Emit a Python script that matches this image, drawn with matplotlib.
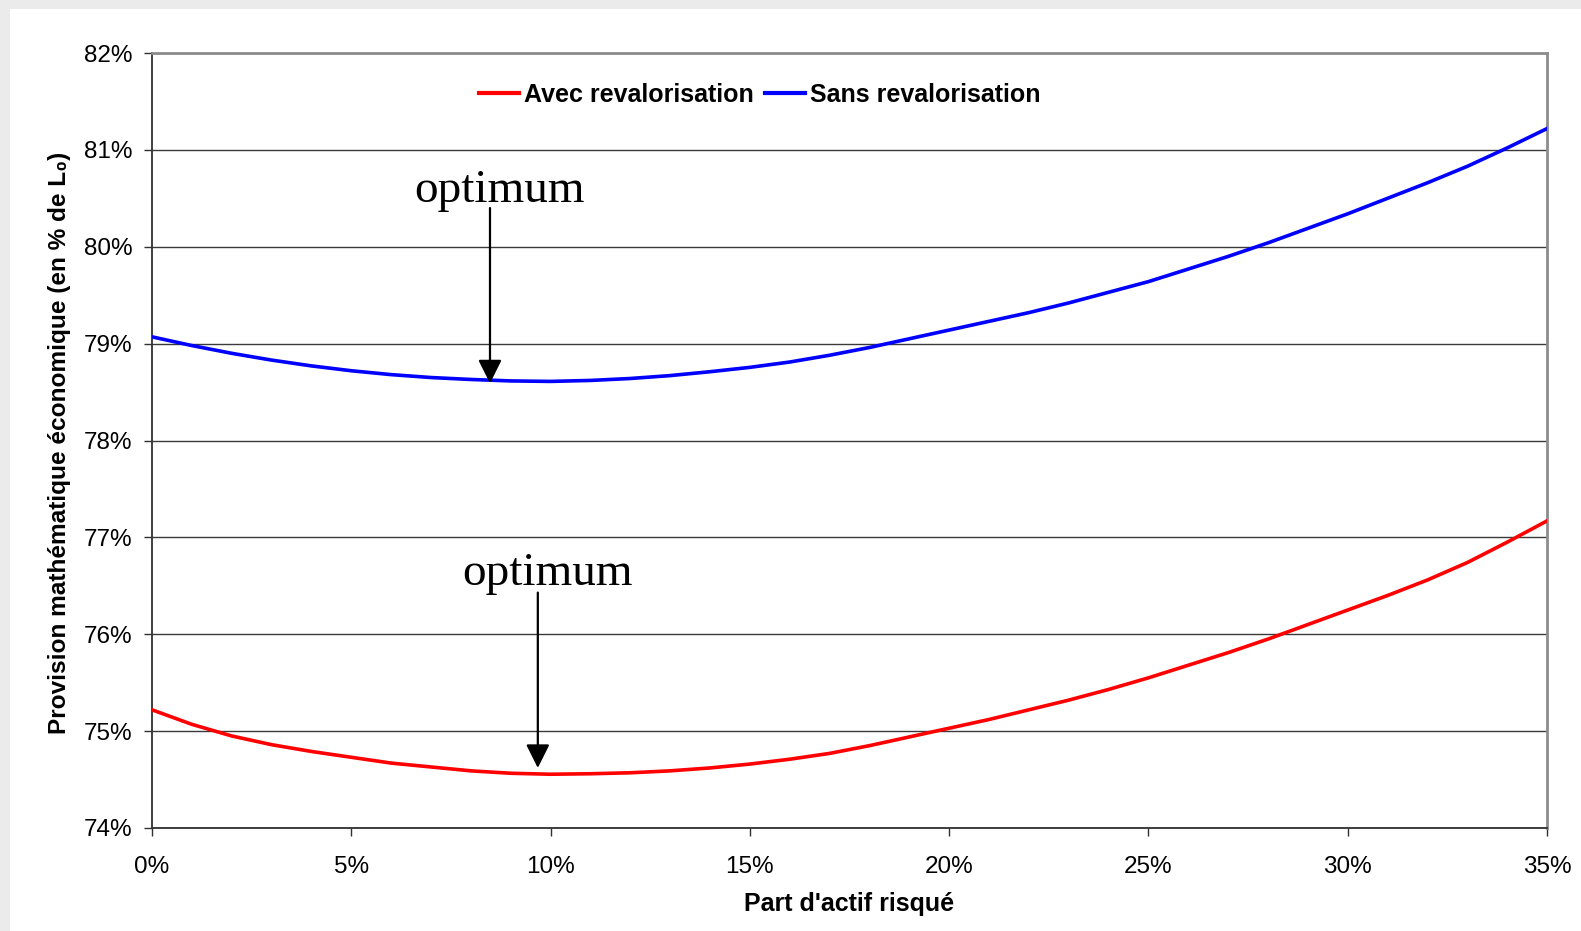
import matplotlib
matplotlib.use("Agg")
import matplotlib.pyplot as plt
from matplotlib.patches import Rectangle
from matplotlib.ticker import FuncFormatter, MultipleLocator

# Share of risky assets (%)
part_risque = list(range(0, 36))
# Economic mathematical provision (% of L0)
avec_reval = [75.22, 75.07, 74.95, 74.86, 74.79, 74.73, 74.67, 74.63, 74.59, 74.565,
              74.555, 74.56, 74.57, 74.59, 74.62, 74.66, 74.71, 74.77, 74.85, 74.94,
              75.03, 75.12, 75.22, 75.32, 75.43, 75.55, 75.68, 75.81, 75.95, 76.10,
              76.25, 76.40, 76.56, 76.74, 76.95, 77.17]
sans_reval = [79.07, 78.98, 78.90, 78.83, 78.77, 78.72, 78.68, 78.65, 78.63, 78.615,
              78.61, 78.62, 78.64, 78.67, 78.71, 78.755, 78.81, 78.88, 78.96, 79.05,
              79.14, 79.23, 79.32, 79.42, 79.53, 79.64, 79.77, 79.90, 80.04, 80.19,
              80.34, 80.50, 80.66, 80.83, 81.02, 81.22]

series_labels = ["Avec revalorisation", "Sans revalorisation"]
x_label = "Part d'actif risqué"
y_label = "Provision mathématique économique (en % de L₀)"
annot_text = "optimum"
# optimum arrows: (x, tip y, tail y, text x, text baseline y)
optimum_sans = (8.48, 78.59, 80.40, 8.71, 80.46)
optimum_avec = (9.68, 74.62, 76.43, 9.92, 76.51)

W, H = 1581, 931
fig = plt.figure(figsize=(W / 100, H / 100), dpi=100)
fig.patch.set_facecolor("#ebebeb")
fig.patches.append(Rectangle((10 / W, 0), 1, (H - 9) / H, transform=fig.transFigure,
                             facecolor="white", edgecolor="none", zorder=-10))

ax = fig.add_axes([152 / W, 1 - 828 / H, (1547 - 152) / W, (828 - 53) / H])
ax.set_facecolor("white")

ax.plot(part_risque, avec_reval, color="#ff0000", lw=2.6, label=series_labels[0],
        zorder=3, solid_joinstyle="round")
ax.plot(part_risque, sans_reval, color="#0000ff", lw=2.6, label=series_labels[1],
        zorder=3, solid_joinstyle="round")

ax.set_xlim(0, 35)
ax.set_ylim(74, 82)
ax.xaxis.set_major_locator(MultipleLocator(5))
ax.yaxis.set_major_locator(MultipleLocator(1))
ax.xaxis.set_major_formatter(FuncFormatter(lambda v, p: f"{v:.0f}%"))
ax.yaxis.set_major_formatter(FuncFormatter(lambda v, p: f"{v:.0f}%"))

ax.grid(axis="y", color="#3a3a3a", lw=1.0, zorder=1)
ax.set_axisbelow(True)

for s in ("left", "bottom"):
    ax.spines[s].set_color("#303030")
    ax.spines[s].set_linewidth(1.3)
for s in ("top", "right"):
    ax.spines[s].set_color("#8c8c8c")
    ax.spines[s].set_linewidth(2.0)

ax.tick_params(axis="both", direction="out", length=5.5, width=1.0, color="#303030",
               labelsize=17.5, labelcolor="black")
ax.tick_params(axis="x", pad=14.5)
ax.tick_params(axis="y", pad=8.5)
for lab in ax.get_xticklabels() + ax.get_yticklabels():
    lab.set_family(["Liberation Sans", "DejaVu Sans"])

fig.text(849 / W, 1 - 911 / H, x_label, ha="center", va="baseline",
         fontsize=18, fontweight="bold", family=["Liberation Sans", "DejaVu Sans"])
fig.text(59.5 / W, 1 - 443 / H, y_label, ha="center", va="center", rotation=90,
         fontsize=17.6, fontweight="bold", family=["Liberation Sans", "DejaVu Sans"])

leg = ax.legend(loc="center", bbox_to_anchor=(760 / W, 1 - 95 / H),
                bbox_transform=fig.transFigure, ncol=2, frameon=False,
                handlelength=1.6, handletextpad=0.2, columnspacing=0.45,
                prop={"family": "Liberation Sans", "weight": "bold", "size": 18})
for line in leg.get_lines():
    line.set_linewidth(3)

for (x, tip, tail, tx, ty) in (optimum_sans, optimum_avec):
    ax.annotate("", xy=(x, tip), xytext=(x, tail),
                arrowprops=dict(arrowstyle="-|>", color="black", lw=1.6,
                                mutation_scale=36, shrinkA=0, shrinkB=0),
                zorder=4)
    ax.text(tx, ty, annot_text, ha="center", va="baseline", fontsize=34,
            family=["Liberation Serif", "DejaVu Serif"], color="black", zorder=4)

fig.savefig("out.png", dpi=100)
